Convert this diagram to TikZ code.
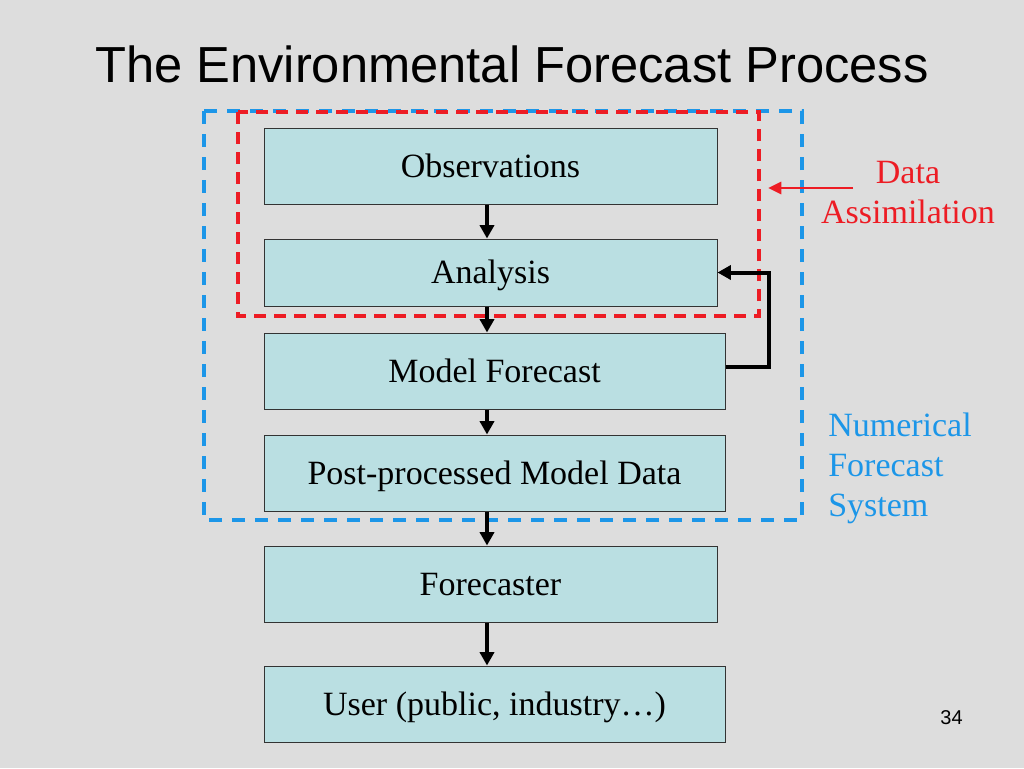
\documentclass[tikz,border=0pt]{standalone}
\usepackage{fontspec}
\setmainfont{Liberation Serif}
\newfontfamily\arialf{Liberation Sans}
\usetikzlibrary{arrows.meta,calc}
\definecolor{bgc}{HTML}{DDDDDD}
\definecolor{boxfill}{HTML}{BADFE2}
\definecolor{boxline}{HTML}{333333}
\definecolor{dared}{RGB}{237,28,36}
\definecolor{nfsblue}{RGB}{28,150,232}
\tikzset{
  procbox/.style={draw=boxline, fill=boxfill, line width=0.75pt, inner sep=0pt,
    text height=17pt, text depth=0pt, font=\fontsize{25.5}{30}\selectfont},
  narrowbox/.style={procbox, minimum width=339.75pt, minimum height=57pt},
  widebox/.style={procbox, minimum width=345.75pt, minimum height=57pt},
  flow/.style={line width=3pt, -{Triangle[width=10.5pt,length=10pt]}},
  bluedash/.style={draw=nfsblue, line width=2.4pt, dash pattern=on 9.75pt off 7.5pt},
  reddash/.style={draw=dared, line width=2.4pt, dash pattern=on 9pt off 6pt},
  sidetext/.style={font=\fontsize{25.5}{30}\selectfont, inner sep=0pt}
}
\begin{document}
\begin{tikzpicture}[x=0.75pt,y=-0.75pt]
\useasboundingbox (0,0) rectangle (1024,768);
\fill[bgc] (0,0) rectangle (1024,768);

\node[font=\arialf\fontsize{38}{42}\selectfont, anchor=base, inner sep=0pt] (title) at (512,82) {The Environmental Forecast Process};

% frames
\draw[bluedash] (204,111) rectangle (802,520);

% boxes
\node[narrowbox] (obs) at (490.5,166) {Observations};
\node[narrowbox, minimum height=50.25pt] (ana) at (490.5,272.5) {Analysis};
\node[widebox] (mod) at (494.5,371) {Model Forecast};
\node[widebox] (post) at (494.5,473) {Post-processed Model Data};
\node[narrowbox] (fcst) at (490.5,584) {Forecaster};
\node[widebox] (user) at (494.5,704) {User (public, industry…)};

\draw[reddash] (238,112) rectangle (759,316);

% flow arrows
\coordinate (ax) at (487,0);
\draw[flow] (obs.south -| ax) -- (ana.north -| ax);
\draw[flow] (ana.south -| ax) -- (mod.north -| ax);
\draw[flow] (mod.south -| ax) -- (post.north -| ax);
\draw[flow] (post.south -| ax) -- (fcst.north -| ax);
\draw[flow] (fcst.south -| ax) -- (user.north -| ax);

% feedback
\draw[flow] ($(mod.east)+(0,-4)$) -- ++(43,0) |- (ana.east);

% data assimilation
\node[sidetext, text=dared, anchor=base, align=center] (da) at (908,223) {Data\\Assimilation};
\coordinate (das) at (853,188);
\coordinate (dat) at (768,188);
\draw[draw=dared, line width=2.2pt, -{Triangle[width=9pt,length=10pt]}] (das) -- (dat);

% numerical forecast system
\node[sidetext, text=nfsblue, anchor=base west, align=left] (nfs) at (828,516) {Numerical\\Forecast\\System};

\node[font=\arialf\fontsize{15}{18}\selectfont, anchor=base, inner sep=0pt] (pg) at (951.5,724) {34};
\end{tikzpicture}
\end{document}
